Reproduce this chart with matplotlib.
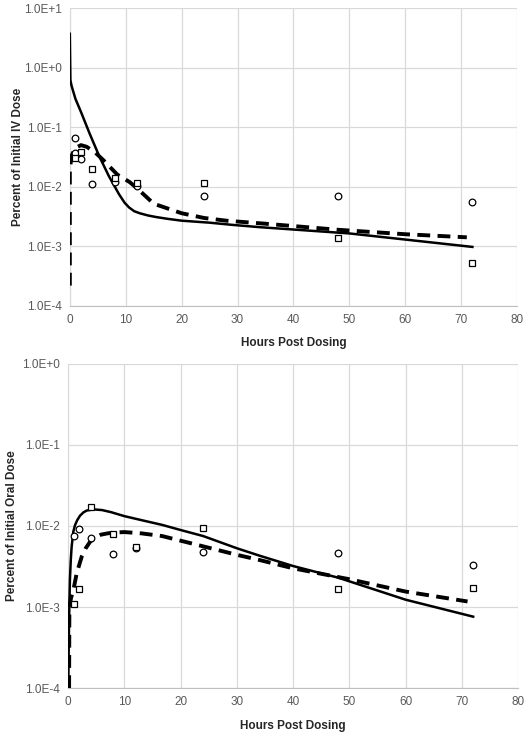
import matplotlib
matplotlib.use("Agg")
import matplotlib.pyplot as plt
from matplotlib.ticker import FixedLocator, FixedFormatter

plt.rcParams['font.family'] = ['Liberation Sans', 'DejaVu Sans']

# ---------------- IV dose panel ----------------
iv_circle_t = [1, 1, 2, 4, 8, 12, 24, 48, 72]
iv_circle_y = [0.066, 0.037, 0.029, 0.011, 0.012, 0.0103, 0.0069, 0.0069, 0.0055]
iv_square_t = [1, 2, 4, 8, 12, 24, 48, 72]
iv_square_y = [0.030, 0.038, 0.020, 0.014, 0.0115, 0.0115, 0.00138, 0.00052]

iv_solid_t = [0, 0.1, 0.3, 1, 2, 3.5, 5.3, 7, 8.8, 9.8, 10.6, 11.5, 12.5, 14, 15.5, 17.5, 20,
              25, 29, 34, 50, 72]
iv_solid_y = [3.7, 0.62, 0.5, 0.3, 0.18, 0.08, 0.032, 0.015, 0.0075, 0.0054, 0.0045, 0.0039,
              0.0036, 0.0033, 0.0031, 0.0029, 0.0027, 0.0025, 0.0023, 0.0021, 0.00165, 0.00098]
iv_dash_t = [0, 0, 0.3, 0.7, 1, 2, 3, 4.5, 6, 8.5, 10.7, 12, 15, 20, 24, 28, 35, 48, 60, 71]
iv_dash_y = [2.2e-4, 0.019, 0.033, 0.040, 0.045, 0.050, 0.047, 0.038, 0.028, 0.016, 0.012,
             0.0095, 0.0052, 0.0036, 0.0030, 0.0027, 0.0024, 0.0019, 0.0016, 0.00142]

# ---------------- Oral dose panel ----------------
po_circle_t = [1, 2, 4, 8, 12, 24, 48, 72]
po_circle_y = [0.0075, 0.0091, 0.0071, 0.0045, 0.0054, 0.0048, 0.0046, 0.0033]
po_square_t = [1, 2, 4, 8, 12, 24, 48, 72]
po_square_y = [0.0011, 0.00166, 0.017, 0.0080, 0.0055, 0.0094, 0.00166, 0.0017]

po_solid_t = [0, 0.1, 0.2, 0.3, 0.45, 0.6, 0.9, 1.2, 1.6, 2.1, 2.7, 3.3, 4.5, 6, 7.6, 10, 13,
              16.7, 20, 24, 30, 34, 40, 48, 60, 72]
po_solid_y = [1.0e-4, 4e-4, 0.0011, 0.0022, 0.0038, 0.0055, 0.0085, 0.0102, 0.0118, 0.0134,
              0.0147, 0.0155, 0.0160, 0.0157, 0.0148, 0.0132, 0.0118, 0.0103, 0.0089, 0.0075,
              0.0053, 0.0043, 0.0032, 0.0023, 0.00123, 0.00076]
po_dash_t = [0.15, 0.2, 0.5, 0.9, 1.5, 2.4, 3.1, 3.9, 4.8, 5.8, 7, 8.2, 10, 13, 16.7, 24, 30,
             34, 40, 50, 60, 71]
po_dash_y = [1.0e-4, 1.0e-3, 0.0013, 0.0016, 0.0026, 0.0042, 0.0053, 0.0064, 0.0072, 0.0078,
             0.0081, 0.0083, 0.0084, 0.0081, 0.0075, 0.0056, 0.0044, 0.0038, 0.0030, 0.0022,
             0.00155, 0.00117]

x_ticks = [0, 10, 20, 30, 40, 50, 60, 70, 80]
iv_yticks = [1e-4, 1e-3, 1e-2, 1e-1, 1e0, 1e1]
iv_ylabels = ["1.0E-4", "1.0E-3", "1.0E-2", "1.0E-1", "1.0E+0", "1.0E+1"]
po_yticks = [1e-4, 1e-3, 1e-2, 1e-1, 1e0]
po_ylabels = ["1.0E-4", "1.0E-3", "1.0E-2", "1.0E-1", "1.0E+0"]

fig = plt.figure(figsize=(5.25, 7.32), dpi=100)
ax1 = fig.add_axes([0.133, 0.582, 0.852, 0.407])
ax2 = fig.add_axes([0.130, 0.060, 0.857, 0.443])

grid_c = '#d9d9d9'
tick_c = '#595959'


def style(ax, yticks, ylabels, ylim, ylabel, lpad):
    ax.set_yscale('log')
    ax.set_xlim(0, 80)
    ax.set_ylim(*ylim)
    ax.xaxis.set_major_locator(FixedLocator(x_ticks))
    ax.set_xticklabels([str(v) for v in x_ticks])
    ax.yaxis.set_major_locator(FixedLocator(yticks))
    ax.yaxis.set_major_formatter(FixedFormatter(ylabels))
    ax.yaxis.set_minor_locator(FixedLocator([]))
    ax.grid(True, color=grid_c, linewidth=0.9)
    ax.set_axisbelow(True)
    for s in ['top', 'right']:
        ax.spines[s].set_visible(False)
    ax.spines['left'].set_color(grid_c)
    ax.spines['bottom'].set_color('#bfbfbf')
    ax.tick_params(axis='both', length=0, labelsize=8.5, colors=tick_c, pad=6)
    ax.set_xlabel('Hours Post Dosing', fontsize=8.5, fontweight='bold', color='#262626', labelpad=8)
    ax.set_ylabel(ylabel, fontsize=8.5, fontweight='bold', color='#262626', labelpad=lpad)


def draw(ax, st, sy, dt, dy, ct, cy, qt, qy):
    ax.plot(st, sy, color='black', linewidth=1.8, zorder=3)
    ax.plot(dt, dy, color='black', linewidth=2.8, dashes=(3.3, 1.9), zorder=3)
    ax.plot(ct, cy, linestyle='none', marker='o', markersize=4.8,
            markerfacecolor='white', markeredgecolor='black', markeredgewidth=0.9, zorder=4)
    ax.plot(qt, qy, linestyle='none', marker='s', markersize=5.0,
            markerfacecolor='white', markeredgecolor='black', markeredgewidth=0.9, zorder=4)


style(ax1, iv_yticks, iv_ylabels, (1e-4, 1e1), 'Percent of Initial IV Dose', 0)
draw(ax1, iv_solid_t, iv_solid_y, iv_dash_t, iv_dash_y,
     iv_circle_t, iv_circle_y, iv_square_t, iv_square_y)

style(ax2, po_yticks, po_ylabels, (1e-4, 1e0), 'Percent of Initial Oral Dose', 3)
draw(ax2, po_solid_t, po_solid_y, po_dash_t, po_dash_y,
     po_circle_t, po_circle_y, po_square_t, po_square_y)

fig.savefig('out.png', dpi=100, facecolor='white')
